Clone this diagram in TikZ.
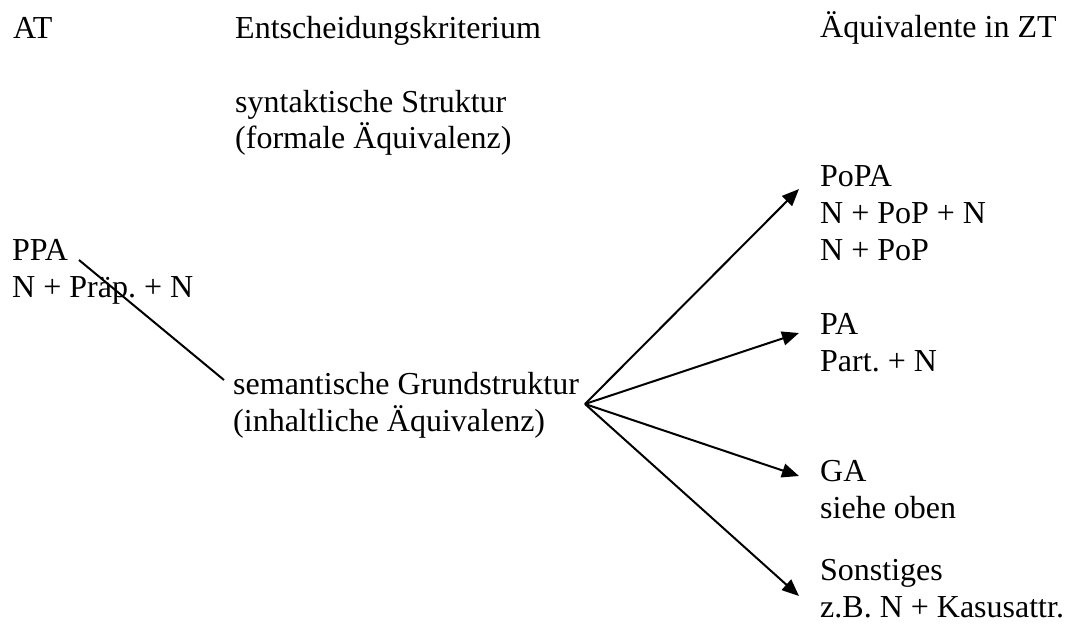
\documentclass[tikz,border=0pt]{standalone}
\usepackage{fontspec}
\setmainfont{Liberation Serif}
\usetikzlibrary{arrows.meta}
\frenchspacing
\begin{document}
\begin{tikzpicture}[x=1pt,y=-1pt,
  lbl/.style={anchor=base west,inner sep=0pt,font=\fontsize{32}{37}\selectfont},
  conn/.style={line width=2pt},
  arr/.style={conn,-{Triangle[length=17pt,width=14pt]}}]
\useasboundingbox (0,0) rectangle (1069,630);
% headers
\node[lbl] (hAT) at (13,38) {AT};
\node[lbl] (hEK) at (235,38) {Entscheidungskriterium};
\node[lbl] (hZT) at (820,37) {Äquivalente in ZT};
% middle column
\node[lbl] (syn1) at (235,112) {syntaktische Struktur};
\node[lbl] (syn2) at (235,148) {(formale Äquivalenz)};
\node[lbl] (sem1) at (233,394) {semantische Grundstruktur};
\node[lbl] (sem2) at (233,431) {(inhaltliche Äquivalenz)};
% left column
\node[lbl] (ppa1) at (12,260) {PPA};
\node[lbl] (ppa2) at (12,297) {N + Präp. + N};
% right column
\node[lbl] (popa1) at (820,186) {PoPA};
\node[lbl] (popa2) at (820,223) {N + PoP + N};
\node[lbl] (popa3) at (820,260) {N + PoP};
\node[lbl] (pa1) at (820,334) {PA};
\node[lbl] (pa2) at (820,371) {Part. + N};
\node[lbl] (ga1) at (820,481) {GA};
\node[lbl] (ga2) at (820,518) {siehe oben};
\node[lbl] (so1) at (820,580) {Sonstiges};
\node[lbl] (so2) at (820,617) {z.B. N + Kasusattr.};
% connectors
\coordinate (lineA) at (79,260);
\coordinate (lineB) at (224,380);
\coordinate (hub) at (585,404);
\coordinate (t1) at (799,189);
\coordinate (t2) at (799,333);
\coordinate (t3) at (799,476);
\coordinate (t4) at (799,596);
\draw[conn] (lineA) -- (lineB);
\draw[arr] (hub) -- (t1);
\draw[arr] (hub) -- (t2);
\draw[arr] (hub) -- (t3);
\draw[arr] (hub) -- (t4);
\end{tikzpicture}
\end{document}
